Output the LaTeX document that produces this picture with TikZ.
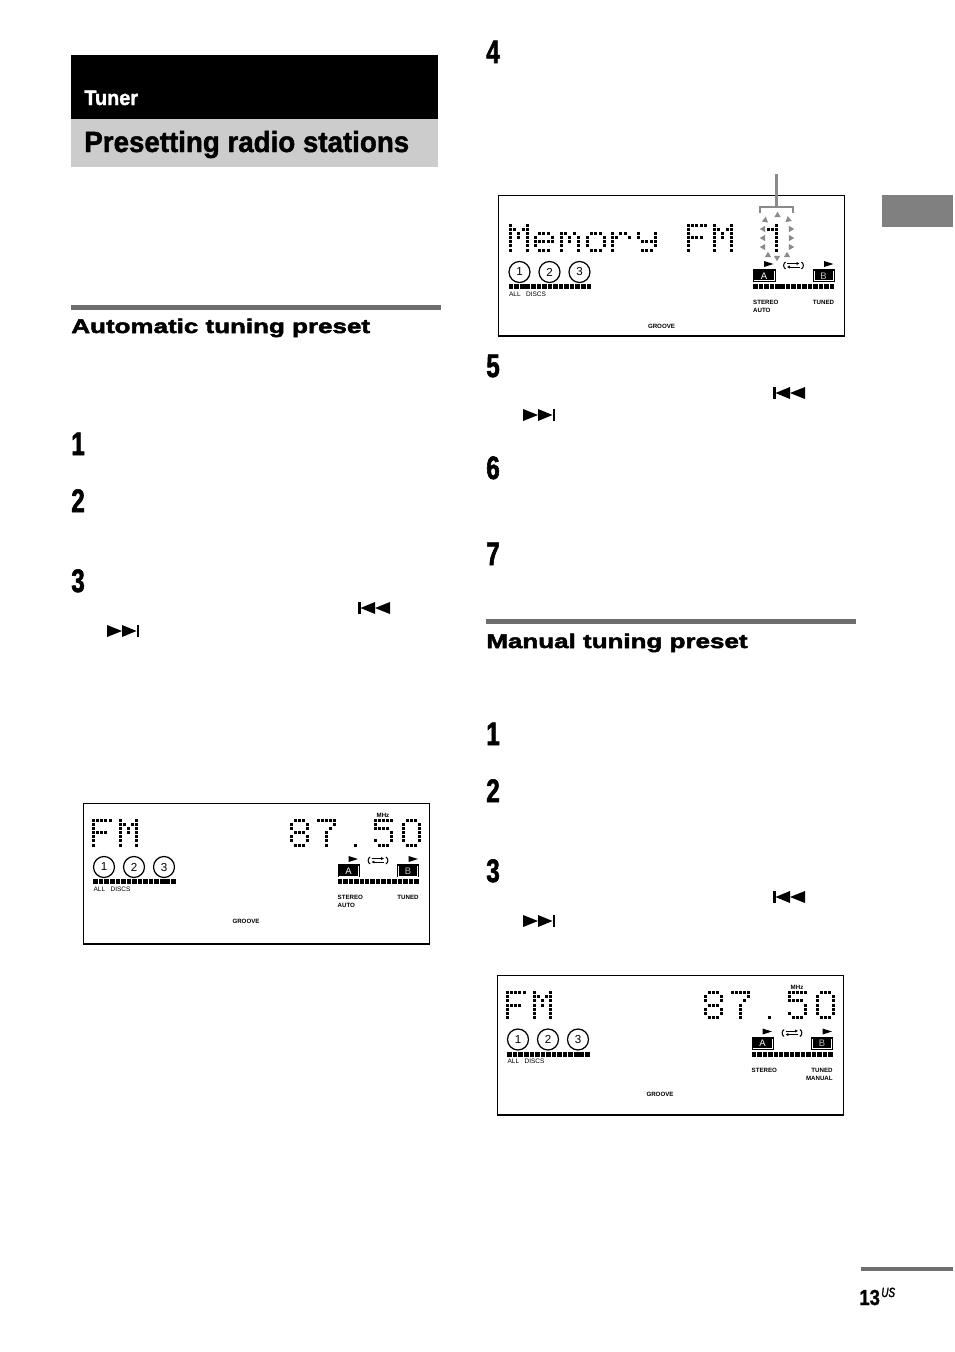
\documentclass[tikz,border=0pt]{standalone}
\usepackage{fontspec}
\usepackage{tikz}
\usetikzlibrary{shapes,arrows,arrows.meta,positioning}
\setmainfont{Liberation Sans}
\newfontfamily\condfont[FakeStretch=0.74,FakeBold=1.8]{Liberation Sans}
\newfontfamily\titleface[FakeStretch=0.95,FakeBold=1.5]{Liberation Sans}
\newfontfamily\wideface[FakeStretch=1.32,FakeBold=2.5]{Liberation Sans}
\newfontfamily\folioface[FakeStretch=0.85,FakeBold=1]{Liberation Sans}
\definecolor{rulegray}{HTML}{6E6E6E}
\definecolor{tabgray}{HTML}{808080}
\definecolor{titlegray}{HTML}{CCCCCC}
\definecolor{burstgray}{HTML}{8A8A8A}
\tikzstyle{chapter} = [anchor=base west, inner sep=0pt, white, font=\fontsize{11.9}{14}\selectfont\titleface\bfseries]
\tikzstyle{title} = [anchor=base west, inner sep=0pt, font=\fontsize{16.6}{18}\selectfont\titleface\bfseries]
\tikzstyle{section} = [anchor=base west, inner sep=0pt, font=\fontsize{11.2}{12}\selectfont\wideface\bfseries]
\tikzstyle{stepnum} = [anchor=base west, inner sep=0pt, font=\fontsize{18.5}{20}\selectfont\condfont\bfseries]
\tikzstyle{lcdlabel} = [inner sep=0pt, font=\fontsize{3.5}{4}\selectfont\bfseries]
\tikzstyle{lcdthin} = [inner sep=0pt, font=\fontsize{3.7}{4}\selectfont]
\tikzstyle{disc} = [circle, draw, line width=0.7pt, inner sep=0pt, minimum size=0.42cm, font=\fontsize{6.6}{7}\selectfont]
\tikzstyle{lcdframe} = [draw, line width=0.7pt]
\tikzstyle{line} = [draw, burstgray, line width=1.3pt]
\tikzstyle{tapebox} = [draw=white, line width=0.35pt]
\tikzstyle{looparrow} = [line width=0.45pt, -{Latex[length=1.6pt,width=1.8pt]}]

% dot rows of the display font, top row first
\def\glyphF{{0,1,2,3,4},{0},{0},{0,1,2,3},{0},{0},{0}}
\def\glyphM{{0,4},{0,1,3,4},{0,2,4},{0,2,4},{0,4},{0,4},{0,4}}
\def\glyphe{{},{},{1,2,3},{0,4},{0,1,2,3,4},{0},{1,2,3}}
\def\glyphm{{},{},{0,1,3},{0,2,4},{0,2,4},{0,4},{0,4}}
\def\glypho{{},{},{1,2,3},{0,4},{0,4},{0,4},{1,2,3}}
\def\glyphr{{},{},{0,2,3},{0,1,4},{0},{0},{0}}
\def\glyphy{{},{},{0,4},{0,4},{1,2,3,4},{4},{1,2,3}}
\def\glyphone{{2},{0,1,2},{2},{2},{2},{2},{2}}
\def\glypheight{{1,2,3},{0,4},{0,4},{1,2,3},{0,4},{0,4},{1,2,3}}
\def\glyphseven{{0,1,2,3,4},{4},{3},{2},{2},{2},{2}}
\def\glyphfive{{0,1,2,3,4},{0},{0,1,2,3},{4},{4},{0,4},{1,2,3}}
\def\glyphzero{{1,2,3},{0,4},{0,4},{0,4},{0,4},{0,4},{1,2,3}}
\def\glyphdot{{},{},{},{},{},{},{2}}

\newcommand{\lcdchar}[2]{
	\foreach \dots [count=\r from 0] in #2 {
		\foreach \c in \dots {
			\fill (#1+\c*4.2-1.5, 17+\r*4.17-1.5) rectangle ++(3,3);
		}
	}
}

\tikzset{
	lcdbase/.pic={
		\node [disc] (d1) at (21,64) {1};
		\node [disc] (d2) at (51,64) {2};
		\node [disc] (d3) at (81,64) {3};
		\foreach \i in {0,...,14} {
			\fill (10.3+\i*5.55,76) rectangle ++(4.6,5);
			\fill (254.7+\i*5.45,76) rectangle ++(4.5,5);
		}
		\node [lcdthin, anchor=west] (all) at (10.3,86) {ALL\ \ \ DISCS};
		\node [lcdlabel] (groove) at (163,118.7) {GROOVE};
		\fill (265.5,53) -- (275,56) -- (265.5,59) -- cycle;
		\fill (325.5,53) -- (335,56) -- (325.5,59) -- cycle;
		% loop symbol
		\draw [looparrow] (288.5,55.5) -- (301,55.5);
		\draw [looparrow] (301,59) -- (288.5,59);
		\draw [line width=0.6pt] (287,54) .. controls (284.5,56) and (284.5,59) .. (287,61);
		\draw [line width=0.6pt] (303,54) .. controls (305.5,56) and (305.5,59) .. (303,61);
		% tape boxes
		\fill (254.7,61.3) rectangle (277,74.3);
		\draw [tapebox] (255.5,72.8) -- (275.6,72.8) -- (275.6,63);
		\node [inner sep=0pt, white, font=\fontsize{5.4}{6}\selectfont] (a) at (265.5,68) {A};
		\fill (314,61.3) rectangle (336,74.3);
		\draw [tapebox] (315.5,63) -- (315.5,72.8) -- (334.5,72.8) -- (334.5,63);
		\node [inner sep=0pt, white!75!black, font=\fontsize{5.4}{6}\selectfont] (b) at (325,68) {B};
		\node [lcdlabel, anchor=west] (stereo) at (254.3,94.7) {STEREO};
		\node [lcdlabel, anchor=east] (tuned) at (336,94.7) {TUNED};
	},
	lcdfm/.pic={
		\lcdchar{10.3}{\glyphF}
		\lcdchar{37}{\glyphM}
		\lcdchar{208}{\glypheight}
		\lcdchar{235}{\glyphseven}
		\lcdchar{264}{\glyphdot}
		\lcdchar{292}{\glyphfive}
		\lcdchar{320}{\glyphzero}
		\node [lcdlabel] (mhz) at (300,12.3) {MHz};
	},
	lcdmemory/.pic={
		\lcdchar{12}{\glyphM}
		\lcdchar{37}{\glyphe}
		\lcdchar{63}{\glyphm}
		\lcdchar{89}{\glypho}
		\lcdchar{114}{\glyphr}
		\lcdchar{140}{\glyphy}
		\lcdchar{190}{\glyphF}
		\lcdchar{216}{\glyphM}
		\lcdchar{270}{\glyphone}
	},
	skipback/.pic={
		\fill (0,0) rectangle (2.5,12);
		\fill (2.5,6) -- (17,0) -- (17,12) -- cycle;
		\fill (17,6) -- (32,0) -- (32,12) -- cycle;
	},
	skipfwd/.pic={
		\fill (29.5,0) rectangle (32,12);
		\fill (29.5,6) -- (15,0) -- (15,12) -- cycle;
		\fill (15,6) -- (0,0) -- (0,12) -- cycle;
	}
}

\begin{document}
\begin{tikzpicture}[x=0.02cm, y=-0.02cm]
	\useasboundingbox [fill=white] (0,0) rectangle (954,1352);

	% title block
	\fill (71,55) rectangle (438,119);
	\fill [titlegray] (71,119) rectangle (438,167);
	\node [chapter] (tuner) at (84,105) {Tuner};
	\node [title] (presetting) at (84,152) {Presetting radio stations};

	% section rules and side tab
	\fill [rulegray] (71,305) rectangle (441,310);
	\fill [rulegray] (486,619) rectangle (856,624);
	\fill [tabgray] (882,195) rectangle (953,227);
	\fill [rulegray] (861,1267) rectangle (953,1271);
	\node [section] (auto) at (71,333) {Automatic tuning preset};
	\node [section] (manual) at (486,648) {Manual tuning preset};

	% left column steps
	\node [stepnum] (s1) at (71,455) {1};
	\node [stepnum] (s2) at (71,512) {2};
	\node [stepnum] (s3) at (71,592) {3};
	\pic at (358,602) {skipback};
	\pic at (107,625) {skipfwd};

	% right column steps
	\node [stepnum] (s4) at (486,63) {4};
	\node [stepnum] (s5) at (486,377) {5};
	\node [stepnum] (s6) at (486,479) {6};
	\node [stepnum] (s7) at (486,565) {7};
	\node [stepnum] (m1) at (486,745) {1};
	\node [stepnum] (m2) at (486,802) {2};
	\node [stepnum] (m3) at (486,882) {3};
	\pic at (773,387) {skipback};
	\pic at (523,409) {skipfwd};
	\pic at (773,891) {skipback};
	\pic at (523,915) {skipfwd};

	% display after automatic tuning
	\draw [lcdframe] (83.5,803.5) rectangle (429.5,944);
	\pic (pa) at (83,803) {lcdbase};
	\pic (pa) at (83,803) {lcdfm};
	\node [lcdlabel, anchor=north west] (paauto) at ([yshift=-1.7pt]pastereo.south west) {AUTO};

	% display with memory number
	\draw [lcdframe] (498.5,195.5) rectangle (844.5,336);
	\pic (pb) at (498.5,208) {lcdbase};
	\pic (pb) at (498.5,208) {lcdmemory};
	\node [lcdlabel, anchor=north west] (pbauto) at ([yshift=-1.7pt]pbstereo.south west) {AUTO};
	\foreach \tx/\ty/\ta in {777.5/215/90, 765.5/220.5/-40, 788/220/220,
		763/229/180, 763/238/180, 763/247/180,
		791/229/0, 791/238/0, 791/247/0,
		768/255/90, 777/258/270, 787/255/90} {
		\fill [burstgray, shift={(\tx,\ty)}, rotate=\ta] (3.2,0) -- (-2.2,3.2) -- (-2.2,-3.2) -- cycle;
	}
	\coordinate (leadtop) at (776.5,174);
	\coordinate (leadfoot) at (776.5,207);
	\coordinate (bracketl) at (760,213);
	\coordinate (bracketr) at (793,213);
	\path [line] (leadtop) -- (leadfoot);
	\path [line] (bracketl) |- (leadfoot) -| (bracketr);

	% display for manual tuning
	\draw [lcdframe] (497.5,975.5) rectangle (843.5,1115);
	\pic (pc) at (497,975.5) {lcdbase};
	\pic (pc) at (497,975.5) {lcdfm};
	\node [lcdlabel, anchor=north east] (pcmanual) at ([yshift=-1.7pt]pctuned.south east) {MANUAL};

	% folio
	\node [anchor=base west, inner sep=0pt, font=\fontsize{12.4}{14}\selectfont\folioface\bfseries] (folio) at (859,1305) {13};
	\node [anchor=base west, inner sep=0pt, font=\fontsize{7.6}{8}\selectfont\condfont\itshape] (us) at (881,1297) {US};
\end{tikzpicture}
\end{document}
